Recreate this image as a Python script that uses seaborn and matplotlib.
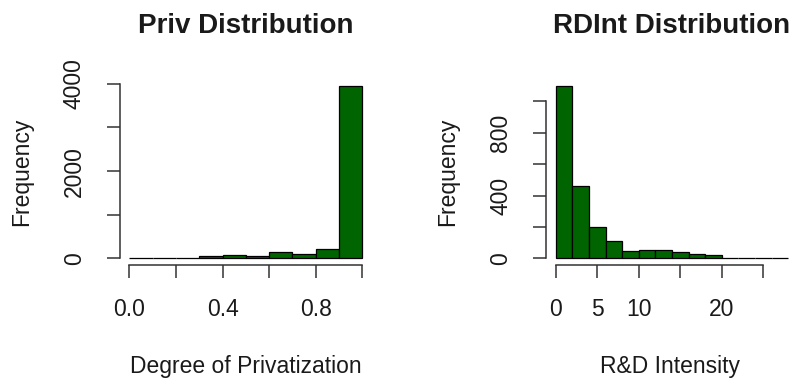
import numpy as np
import pandas as pd
import matplotlib
matplotlib.use("Agg")
import matplotlib.pyplot as plt
import seaborn as sns

# Histogram counts per bin
priv_edges = [0.0, 0.1, 0.2, 0.3, 0.4, 0.5, 0.6, 0.7, 0.8, 0.9, 1.0]
priv_counts = [2, 2, 3, 45, 75, 45, 140, 105, 205, 3940]

rd_edges = [0, 2, 4, 6, 8, 10, 12, 14, 16, 18, 20, 22, 24, 26, 28]
rd_counts = [1095, 460, 198, 113, 47, 55, 55, 38, 30, 19, 5, 3, 3, 2]

priv_xticks = [0.0, 0.2, 0.4, 0.6, 0.8, 1.0]
priv_xlabels = ["0.0", "", "0.4", "", "0.8", ""]
priv_yticks = [0, 1000, 2000, 3000, 4000]
priv_ylabels = ["0", "", "2000", "", "4000"]

rd_xticks = [0, 5, 10, 15, 20, 25]
rd_xlabels = ["0", "5", "10", "", "20", ""]
rd_yticks = [0, 200, 400, 600, 800, 1000]
rd_ylabels = ["0", "", "400", "", "800", ""]

sns.set_theme(style="white")
plt.rcParams["font.family"] = ["Liberation Sans", "DejaVu Sans"]

W, H = 792, 380
fig = plt.figure(figsize=(W / 100, H / 100), dpi=100)

FG = "#1a1a1a"
AX = "#333333"
FILL = "#006400"


def px_axes(left, top, right, bottom):
    return fig.add_axes([left / W, 1 - bottom / H, (right - left) / W, (bottom - top) / H])


def draw_panel(ax, edges, counts, xticks, xlabels, yticks, ylabels):
    centers = [(a + b) / 2 for a, b in zip(edges[:-1], edges[1:])]
    df = pd.DataFrame({"x": centers, "n": counts})
    sns.histplot(data=df, x="x", weights="n", bins=list(edges), ax=ax,
                 color=FILL, alpha=1.0, edgecolor="black", linewidth=0.9)
    x0, x1 = edges[0], edges[-1]
    ymax = max(counts)
    ax.set_xlim(x0 - 0.04 * (x1 - x0), x1 + 0.04 * (x1 - x0))
    ax.set_ylim(-0.04 * ymax, 1.04 * ymax)
    for s in ["top", "right"]:
        ax.spines[s].set_visible(False)
    for s in ["left", "bottom"]:
        ax.spines[s].set_color(AX)
        ax.spines[s].set_linewidth(1.1)
    ax.spines["bottom"].set_bounds(xticks[0], xticks[-1])
    ax.spines["left"].set_bounds(yticks[0], yticks[-1])
    ax.set_xticks(xticks)
    ax.set_xticklabels(xlabels)
    ax.set_yticks(yticks)
    ax.set_yticklabels(ylabels, rotation=90, va="center")
    ax.tick_params(axis="both", direction="out", length=9.5, width=1.1,
                   color=AX, labelcolor=FG, labelsize=16.5)
    ax.tick_params(axis="x", pad=14, bottom=True)
    ax.tick_params(axis="y", pad=15, left=True)
    ax.set_xlabel("")
    ax.set_ylabel("")
    ax.set_facecolor("none")
    ax.grid(False)


ax1 = px_axes(120, 79.6, 371.6, 265.2)
draw_panel(ax1, priv_edges, priv_counts, priv_xticks, priv_xlabels,
           priv_yticks, priv_ylabels)

ax2 = px_axes(546.4, 79.6, 797.5, 265.2)
draw_panel(ax2, rd_edges, rd_counts, rd_xticks, rd_xlabels,
           rd_yticks, rd_ylabels)

# Titles and axis labels
def ftext(x, y, s, **kw):
    fig.text(x / W, 1 - y / H, s, color=FG, **kw)

ftext(245.8, 33, "Priv Distribution", fontsize=20, fontweight="bold",
      ha="center", va="baseline")
ftext(671.9, 33, "RDInt Distribution", fontsize=20, fontweight="bold",
      ha="center", va="baseline")
ftext(245.8, 367, "Degree of Privatization", fontsize=16.5, ha="center", va="center")
ftext(670, 367, "R&D Intensity", fontsize=16.5, ha="center", va="center")
ftext(21.7, 172, "Frequency", fontsize=16.5, rotation=90, ha="center", va="center")
ftext(448, 172, "Frequency", fontsize=16.5, rotation=90, ha="center", va="center")

fig.savefig("out.png", dpi=100)
